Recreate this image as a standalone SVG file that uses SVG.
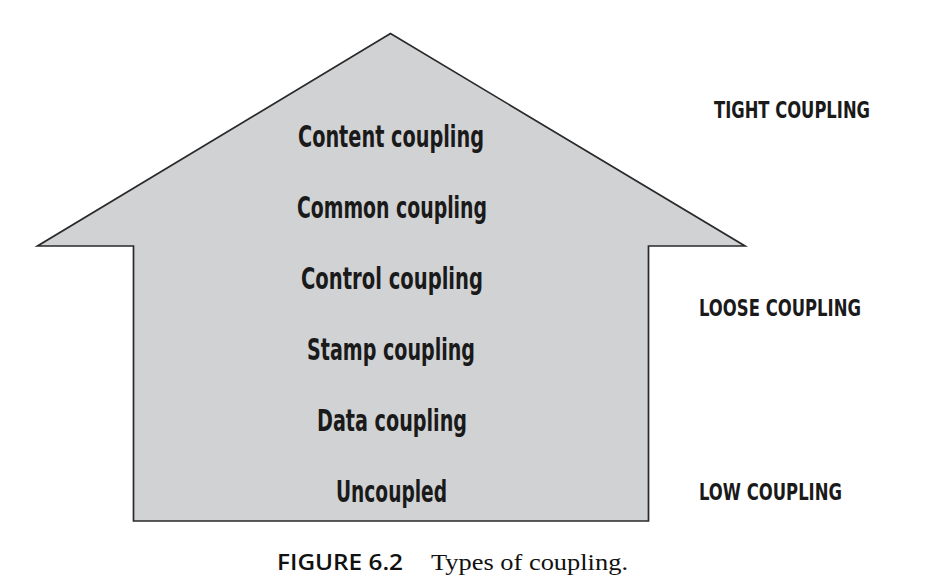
<svg xmlns="http://www.w3.org/2000/svg" width="934" height="584" viewBox="0 0 934 584">
<style>
.lvl{font-family:"DejaVu Sans Condensed","Liberation Sans",sans-serif;font-weight:bold;font-size:31px;fill:#1a1a1a}
.side{font-family:"DejaVu Sans Condensed","Liberation Sans",sans-serif;font-weight:bold;font-size:23px;fill:#1a1a1a}
.cap1{font-family:"Open Sans","Noto Sans",sans-serif;font-weight:600;font-size:21px;fill:#111}
.cap2{font-family:"Liberation Serif",serif;font-size:23px;fill:#111}
</style>
<rect width="934" height="584" fill="#fff"/>
<g id="house">
<polygon points="390.5,33.5 37.5,246 133.5,246 133.5,521 648.5,521 648.5,246 745,246" fill="#d1d2d4" stroke="#2a2a2a" stroke-width="1.7" stroke-linejoin="miter"/>
</g>
<g id="levels">
<text id="content" class="lvl" x="298" y="147" textLength="186" lengthAdjust="spacingAndGlyphs">Content coupling</text>
<text id="common" class="lvl" x="297" y="218" textLength="190" lengthAdjust="spacingAndGlyphs">Common coupling</text>
<text id="control" class="lvl" x="301" y="289" textLength="182" lengthAdjust="spacingAndGlyphs">Control coupling</text>
<text id="stamp" class="lvl" x="307" y="360" textLength="168" lengthAdjust="spacingAndGlyphs">Stamp coupling</text>
<text id="data" class="lvl" x="317" y="431" textLength="150" lengthAdjust="spacingAndGlyphs">Data coupling</text>
<text id="uncoupled" class="lvl" x="336" y="502" textLength="111" lengthAdjust="spacingAndGlyphs">Uncoupled</text>
</g>
<g id="scale">
<text id="tight" class="side" x="714" y="118" textLength="156" lengthAdjust="spacingAndGlyphs">TIGHT COUPLING</text>
<text id="loose" class="side" x="699" y="316" textLength="162" lengthAdjust="spacingAndGlyphs">LOOSE COUPLING</text>
<text id="low" class="side" x="699" y="500" textLength="143" lengthAdjust="spacingAndGlyphs">LOW COUPLING</text>
</g>
<g id="connectors"></g>
<g id="caption">
<text class="cap1" x="277" y="570" textLength="126" lengthAdjust="spacingAndGlyphs">FIGURE 6.2</text>
<text class="cap2" x="431" y="570" textLength="197" lengthAdjust="spacingAndGlyphs">Types of coupling.</text>
</g>
</svg>
